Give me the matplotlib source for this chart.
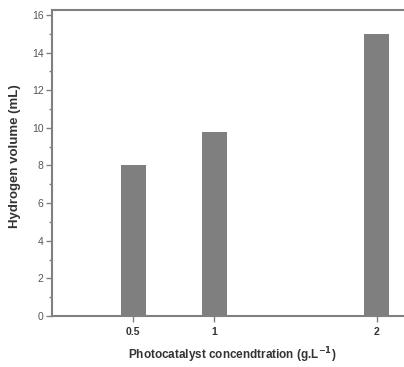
import matplotlib
matplotlib.use("Agg")
import matplotlib.pyplot as plt
from matplotlib.ticker import MultipleLocator

plt.rcParams['font.family'] = ['Liberation Sans', 'DejaVu Sans']

# data
concentration = [0.5, 1, 2]
h2_volume = [8.0, 9.8, 15.0]
tick_labels = ["0.5", "1", "2"]

edge = "#808080"
text_col = "#333333"

fig = plt.figure(figsize=(4.04, 3.67), dpi=100)
ax = fig.add_axes([0.1287, 0.139, 1.005, 0.834])

ax.bar(concentration, h2_volume, width=0.155, color="#7f7f7f", edgecolor="none")

ax.set_xlim(0, 2.5)
ax.set_ylim(0, 16.27)
ax.set_xticks(concentration)
ax.set_xticklabels(tick_labels, fontsize=7.5, fontweight="bold", color=text_col)
ax.yaxis.set_major_locator(MultipleLocator(2))
ax.yaxis.set_minor_locator(MultipleLocator(1))
ax.tick_params(axis="y", which="major", direction="out", length=4, width=1,
               color=edge, labelsize=7.5, labelcolor="#555555", pad=2)
ax.tick_params(axis="y", which="minor", direction="out", length=2, width=1, color=edge)
ax.tick_params(axis="x", direction="out", length=4, width=1, color=edge, pad=4)

for s in ax.spines.values():
    s.set_color(edge)
    s.set_linewidth(1.5)

fig.text(0.037, 0.575, "Hydrogen volume (mL)", fontsize=9.5, fontweight="bold",
         color=text_col, rotation=90, ha="center", va="center")
fig.text(0.574, 0.033, "Photocatalyst concendtration (g.L$^{\\mathbf{-1}}$)", fontsize=8.5,
         fontweight="bold", color=text_col, ha="center", va="center")

plt.savefig("out.png", dpi=100)
